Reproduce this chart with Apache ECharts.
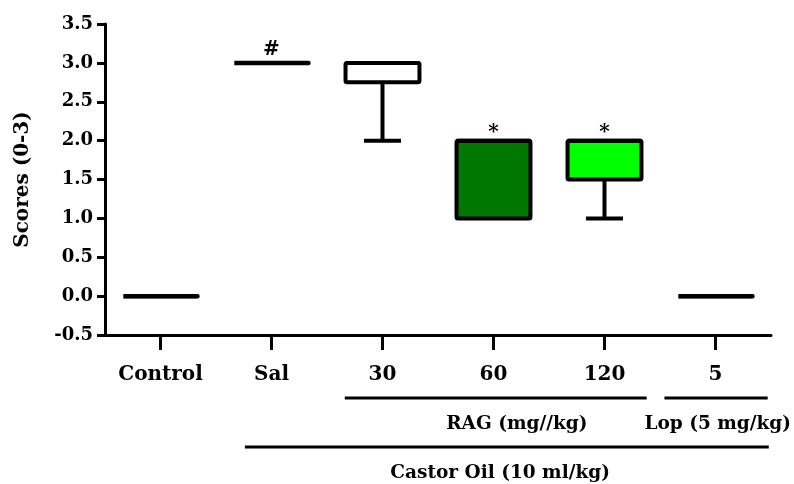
<!DOCTYPE html>
<html>
<head>
<meta charset="utf-8">
<script src="https://cdn.jsdelivr.net/npm/echarts@6/dist/echarts.min.js"></script>
<style>html,body{margin:0;padding:0;background:#fff;}#chart{width:794px;height:484px;}</style>
</head>
<body>
<div id="chart"></div>
<script>
const categories = ['Control', 'Sal', '30', '60', '120', '5'];
const minValues = [0, 3, 2, 1, 1, 0];
const q1Values = [0, 3, 2.75, 1, 1.5, 0];
const medianValues = [0, 3, 3, 2, 2, 0];
const q3Values = [0, 3, 3, 2, 2, 0];
const maxValues = [0, 3, 3, 2, 2, 0];
const significance = ['', '#', '', '*', '*', ''];
const groupLabels = ['RAG (mg//kg)', 'Lop (5 mg/kg)', 'Castor Oil (10 ml/kg)'];
const groupStart = [2, 5, 1];
const groupEnd = [4, 5, 5];

const boxFill = ['#ffffff', '#ffffff', '#ffffff', '#007800', '#00ff00', '#ffffff'];
const FONT = '"DejaVu Serif", serif';
// layout of group brackets: [row, left offset (bands), right offset (bands), text shift (bands)]
const groupLayout = [[0, -0.34, 0.38, 0.21], [0, -0.46, 0.47, 0.02], [1, -0.24, 0.48, 0.06]];

const boxData = categories.map((c, i) => [i, minValues[i], q1Values[i], medianValues[i], q3Values[i], maxValues[i]]);
const groupData = groupLabels.map((g, i) => [groupStart[i], groupEnd[i], i]);

const chart = echarts.init(document.getElementById('chart'));
const option = {
  animation: false,
  grid: { left: 105, right: 23, top: 24, bottom: 149, containLabel: false, outerBoundsMode: 'none' },
  xAxis: {
    type: 'category',
    data: categories,
    axisLine: { onZero: false, lineStyle: { color: '#000', width: 3 } },
    axisTick: { show: true, inside: false, interval: 0, length: 15, lineStyle: { color: '#000', width: 3 }, alignWithLabel: true },
    axisLabel: { color: '#000', fontFamily: FONT, fontWeight: 'bold', fontSize: 20, margin: 30 },
    splitLine: { show: false }
  },
  yAxis: {
    type: 'value',
    min: -0.5, max: 3.5, interval: 0.5,
    name: 'Scores (0-3)',
    nameLocation: 'middle',
    nameGap: 72,
    nameTextStyle: { color: '#000', fontFamily: FONT, fontWeight: 'bold', fontSize: 20 },
    axisLine: { show: true, lineStyle: { color: '#000', width: 3 } },
    axisTick: { show: true, length: 8, lineStyle: { color: '#000', width: 3 } },
    axisLabel: { color: '#000', fontFamily: FONT, fontWeight: 'bold', fontSize: 18, margin: 12,
      formatter: v => v.toFixed(1) },
    splitLine: { show: false }
  },
  series: [
    {
      type: 'custom',
      data: boxData,
      clip: false,
      renderItem: function (params, api) {
        const i = api.value(0);
        const band = api.size([1, 0])[0];
        const hw = band * 0.333;
        const cx = api.coord([i, 0])[0];
        const yMin = api.coord([i, api.value(1)])[1];
        const yQ1 = api.coord([i, api.value(2)])[1];
        const yMed = api.coord([i, api.value(3)])[1];
        const yQ3 = api.coord([i, api.value(4)])[1];
        const yMax = api.coord([i, api.value(5)])[1];
        const ls = { stroke: '#000', lineWidth: 4, fill: null };
        const children = [];
        if (yMin > yQ1 + 0.5) {
          children.push({ type: 'line', shape: { x1: cx, y1: yQ1, x2: cx, y2: yMin }, style: ls });
          children.push({ type: 'line', shape: { x1: cx - hw / 2, y1: yMin, x2: cx + hw / 2, y2: yMin }, style: ls });
        }
        if (yMax < yQ3 - 0.5) {
          children.push({ type: 'line', shape: { x1: cx, y1: yQ3, x2: cx, y2: yMax }, style: ls });
          children.push({ type: 'line', shape: { x1: cx - hw / 2, y1: yMax, x2: cx + hw / 2, y2: yMax }, style: ls });
        }
        children.push({
          type: 'rect',
          shape: { x: cx - hw, y: yQ3, width: hw * 2, height: yQ1 - yQ3, r: 1.5 },
          style: { stroke: '#000', lineWidth: (yQ1 - yQ3) < 0.5 ? 4.5 : 4, fill: boxFill[i], lineJoin: 'round' }
        });
        children.push({ type: 'line', shape: { x1: cx - hw, y1: yMed, x2: cx + hw, y2: yMed }, style: ls });
        const mark = significance[i];
        if (mark) {
          const off = mark === '*' ? 8 : 13;
          children.push({
            type: 'text', x: cx, y: yMax - off,
            style: { text: mark, fill: '#000', font: 'bold 20px ' + FONT, align: 'center', verticalAlign: 'middle' }
          });
        }
        return { type: 'group', children: children };
      },
      z: 3
    },
    {
      type: 'custom',
      data: groupData,
      clip: false,
      renderItem: function (params, api) {
        const s = api.value(0), e = api.value(1), g = api.value(2);
        const lay = groupLayout[g];
        const band = api.size([1, 0])[0];
        const base = api.coord([0, -0.5])[1];
        const x1 = api.coord([s, 0])[0] + lay[1] * band;
        const x2 = api.coord([e, 0])[0] + lay[2] * band;
        const ly = base + 63 + lay[0] * 49;
        const ty = ly + 26;
        const tx = (api.coord([s, 0])[0] + api.coord([e, 0])[0]) / 2 + lay[3] * band;
        return {
          type: 'group',
          children: [
            { type: 'line', shape: { x1: x1, y1: ly, x2: x2, y2: ly }, style: { stroke: '#000', lineWidth: 3 } },
            { type: 'text', x: tx, y: ty, style: { text: groupLabels[g], fill: '#000', font: 'bold 18.5px ' + FONT, align: 'center', verticalAlign: 'middle' } }
          ]
        };
      }
    }
  ]
};
chart.setOption(option);
</script>
</body>
</html>
